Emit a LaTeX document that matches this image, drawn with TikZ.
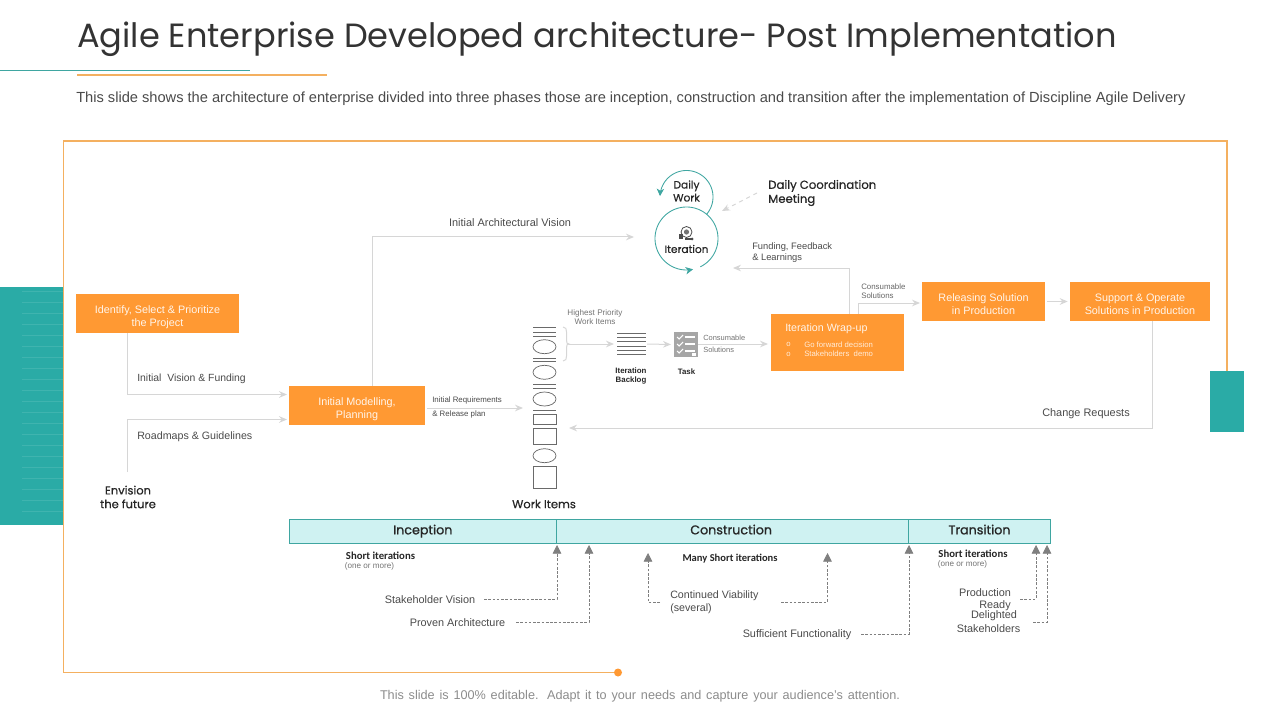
\documentclass[tikz,border=0pt]{standalone}
\usepackage{fontspec}
\setmainfont{Liberation Sans}
\newfontfamily\goth{Poppins}
\newfontfamily\gothb[FakeBold=0.6]{Poppins}
\newfontfamily\gothB[FakeBold=1.1]{Poppins}
\newfontfamily\carl{Carlito}
\usetikzlibrary{arrows.meta,calc}
\definecolor{orbox}{HTML}{FF9933}
\definecolor{frameor}{HTML}{F4B060}
\definecolor{tealc}{HTML}{2AABA6}
\definecolor{tealbar}{HTML}{CFF2F2}
\definecolor{tealedge}{HTML}{3FA6A1}
\definecolor{conn}{HTML}{D6D6D6}
\definecolor{dashc}{HTML}{7F7F7F}
\definecolor{txt}{HTML}{4A4A4A}
\definecolor{itemc}{HTML}{6A6A6A}
\newcommand{\fsz}[2]{\fontsize{#1}{#2}\selectfont}
\newcommand{\obt}[1]{\rule{0pt}{16.9pt}\begin{tabular}{@{}c@{}}#1\end{tabular}}
\tikzset{
  orangebox/.style={fill=orbox,draw=none,inner sep=0pt,align=center,text=white!92!orange,font=\fsz{8.1}{9.7}},
  phasebox/.style={fill=tealbar,draw=tealedge,line width=0.7pt,inner sep=0pt,text=black!85,font=\gothB\fsz{9.5}{11},minimum height=18pt,text height=7pt,text depth=2pt},
  flow/.style={draw=conn,line width=0.75pt,-{Stealth[length=6pt,width=5pt,inset=2pt]}},
  dashconn/.style={draw=dashc,line width=0.55pt,dash pattern=on 2pt off 1.2pt,-{Triangle[length=6.5pt,width=6.5pt,fill=dashc]}},
  lab/.style={inner sep=0pt,text=txt,align=left,anchor=west},
  labc/.style={inner sep=0pt,text=txt,align=center},
  gothlab/.style={inner sep=0pt,text=black!85,align=center},
  wraptext/.style={anchor=west,inner sep=0pt,text=white!85!orange,font=\fsz{5.8}{7}},
  itemline/.style={draw=itemc,line width=0.5pt},
  itemshape/.style={draw=itemc,line width=0.55pt},
  spin/.style={draw=tealedge,line width=0.65pt,-{Stealth[length=5.5pt,width=5.5pt,inset=1.5pt]},samples=90,smooth,variable=\t},
}
\begin{document}
\begin{tikzpicture}[x=0.75pt,y=-0.75pt]
\useasboundingbox (0,0) rectangle (1280,720);
% side panels
\fill[tealc] (0,287) rectangle (63,525);
\foreach \yy in {291,302,...,521}{\draw[white!10!tealc,line width=0.35pt] (22,\yy) -- (63,\yy);}
\fill[tealc] (1210,371) rectangle (1244,432);
% frame
\coordinate (frameEnd) at (618,672.5);
\draw[frameor,line width=0.9pt] (1227,371) -- (1227,141) -- (63.4,141) -- (63.4,672.5) -- (frameEnd);
\fill[orbox] (frameEnd) circle[radius=4];
% title
\node[anchor=base west,inner sep=0pt,text=black!80,font=\goth\fsz{25.2}{30}] (title) at (77,48) {Agile Enterprise Developed architecture- Post Implementation};
\draw[tealedge,line width=0.75pt] (0,70.5) -- (250,70.5);
\draw[frameor,line width=0.9pt] (77,75) -- (327,75);
\node[anchor=west,inner sep=0pt,text=txt,font=\fsz{11}{13}] (sub) at (76,99) {\makebox[832pt][s]{This slide shows the architecture of enterprise divided into three phases those are inception, construction and transition after the implementation of Discipline Agile Delivery}};
\node[inner sep=0pt,text=black!45,font=\fsz{9.5}{11}] (foot) at (640,696.5) {\makebox[390pt][s]{This slide is 100\% editable. Adapt it to your needs and capture your audience's attention.}};

% boxes
\node[orangebox,minimum width=122.25pt,minimum height=29.25pt] (identify) at (157.5,313.5) {\obt{Identify, Select \& Prioritize\\the Project}};
\node[orangebox,minimum width=102pt,minimum height=29.25pt] (modelling) at (357,405.5) {\obt{Initial Modelling,\\Planning}};
\node[orangebox,minimum width=99.75pt,minimum height=42.75pt] (wrap) at (837.5,342.5) {};
\node[orangebox,minimum width=92.25pt,minimum height=29.25pt] (release) at (983.5,301.5) {\obt{Releasing Solution\\in Production}};
\node[orangebox,minimum width=105pt,minimum height=29.25pt] (support) at (1140,301.5) {\obt{Support \& Operate\\Solutions in Production}};
\node[wraptext,text=white!92!orange,font=\fsz{8}{9.7}] (wraptitle) at (785,329) {Iteration Wrap-up};
\node[wraptext] (b1) at (786,344.5) {o};
\node[wraptext] (b2) at (786,354) {o};
\node[wraptext] (w1) at (804,344.5) {Go forward decision};
\node[wraptext] (w2) at (804,354) {Stakeholders\ \ demo};

% text labels
\node[gothlab,font=\gothb\fsz{8.6}{10.3}] (envision) at (128,497) {Envision\\the future};
\node[lab,font=\fsz{7.8}{9}] (lv) at (137,379) {Initial\ \ Vision \& Funding};
\node[lab,font=\fsz{8}{9}] (lr) at (137,436.5) {Roadmaps \& Guidelines};
\node[labc,font=\fsz{8.2}{9}] (larch) at (510,222.5) {Initial Architectural Vision};
\node[lab,font=\fsz{5.9}{7}] (lreq1) at (432,400.5) {Initial Requirements};
\node[lab,font=\fsz{5.9}{7}] (lreq2) at (432,414.5) {\& Release plan};
\node[labc,text=black!55,font=\fsz{6.1}{6.9}] (lhigh) at (595,317) {Highest Priority\\Work Items};
\node[labc,text=black!85,font=\bfseries\fsz{5.9}{6.9}] (lback) at (631,376) {Iteration\\Backlog};
\node[labc,text=black!85,font=\bfseries\fsz{5.9}{7}] (ltask) at (686.5,371.5) {Task};
\node[lab,text=black!55,font=\fsz{5.6}{7}] (lc1) at (703,338) {Consumable};
\node[lab,text=black!55,font=\fsz{5.6}{7}] (lc2) at (703,349.5) {Solutions};
\node[lab,font=\fsz{7}{8.3}] (lfund) at (752,253) {Funding, Feedback\\\& Learnings};
\node[lab,text=black!60,font=\fsz{5.9}{6.9}] (lcons) at (861,291) {Consumable\\Solutions};
\node[labc,font=\fsz{8.2}{9}] (lchange) at (1086,413.5) {Change Requests};
\node[gothlab,font=\gothb\fsz{8.6}{9.8}] (lwork) at (544,504) {Work Items};
\node[gothlab,anchor=west,align=left,font=\gothb\fsz{8.75}{10.5}] (lcoord) at (768,193) {Daily Coordination\\Meeting};

% cycle circles
\node[gothlab,font=\gothb\fsz{8}{9.7}] (daily) at (686.5,191) {Daily\\Work};
\node[gothlab,font=\gothb\fsz{7.9}{9}] (iter) at (686.5,249) {Iteration};
\draw[spin,domain=41:-178] plot ({686.5+26.5*cos(\t)},{197+26.5*sin(\t)});
\draw[spin,domain=64:-282] plot ({686.5+31.5*cos(\t)},{238.5+31.5*sin(\t)});
% iteration icon
\draw[draw=black!70,line width=0.6pt] (686.5,232) circle[radius=5.5];
\fill[black!55] (686.5,232) circle[radius=2.6];
\fill[black!70] (679,234) rectangle (682.5,239.5);
\draw[black!70,line width=0.8pt] (685,239) -- (692,239);
\fill[black!70] (692,239) circle[radius=1.5];

% work items
\foreach \yy in {327.3,332,336.7,384,388.3,410}{\draw[itemline] (533,\yy) -- (556,\yy);}
\draw[itemline,line width=1pt] (533,358.3) -- (556,358.3);
\draw[itemline] (533,361.7) -- (556,361.7);
\foreach \yy in {346.7,372.3,399,455.7}{\draw[itemshape] (544.5,\yy) ellipse[x radius=11.5,y radius=7];}
\draw[itemshape] (533,414.7) rectangle (556,424.7);
\draw[itemshape] (533,428.3) rectangle (556,444.3);
\draw[itemshape] (533,466.3) rectangle (556,488.3);
\coordinate (itemsIn) at (523,408);
\coordinate (itemsBack) at (569,428);
% brace
\draw[conn,line width=0.75pt] (563,327) .. controls (566,327) and (566.5,329) .. (566.5,332) -- (566.5,340) .. controls (566.5,343) and (567,344) .. (569,344) .. controls (567,344) and (566.5,345) .. (566.5,348) -- (566.5,356) .. controls (566.5,359) and (566,361) .. (563,361);
\coordinate (braceTip) at (569,344);
% backlog
\foreach \yy in {333.7,337.7,341.7,346,350,354.3}{\draw[itemline] (617,\yy) -- (646,\yy);}
\node[inner sep=0pt,minimum width=2pt,minimum height=15.5pt] (backlog) at (631.5,344) {};
% task icon
\node[fill=black!35,inner sep=0pt,minimum width=18pt,minimum height=18.75pt] (task) at (686,344.5) {};
\foreach \yy in {337,344,351}{
  \draw[white,line width=0.8pt] (677,\yy) -- (679,\yy+2) -- (683,\yy-2);
  \draw[white,line width=0.8pt] (685,\yy) -- (695,\yy);
}
\fill[white] (692,353) rectangle (696,356);

% connectors
\coordinate (modIn1) at (287,394.5);
\coordinate (modIn2) at (287,419.5);
\coordinate (envTop) at (127.5,472);
\draw[flow] (identify.south -| envTop) |- (modIn1);
\draw[flow] (envTop) |- (modIn2);
\coordinate (visionEnd) at (634,237);
\draw[flow] (modelling.north -| 372,0) |- (visionEnd);
\draw[flow] ($(modelling.east |- itemsIn)+(2,0)$) -- (itemsIn);
\draw[flow] (braceTip) -- (backlog.west -| 614,0);
\draw[flow] (647,344) -- (task.west -| 671,0);
\draw[flow] (task.east |- 0,344) -- (768,344);
\coordinate (fundEnd) at (733,268);
\draw[flow] (wrap.north -| 849,0) |- (fundEnd);
\draw[flow] (wrap.north -| 858,0) |- (920,303);
\draw[flow] ($(release.east)+(2,0)$) -- ($(support.west)+(-2,0)$);
\draw[flow] (support.south -| 1152,0) |- (itemsBack);
\coordinate (coordStart) at (757,193);
\coordinate (coordEnd) at (722,211);
\draw[flow,dashed] (coordStart) -- (coordEnd);

% phases
\node[phasebox,minimum width=200.25pt] (inception) at (422.75,531) {Inception};
\node[phasebox,minimum width=264pt] (construction) at (732.5,531) {\hspace{-2pt}Construction};
\node[phasebox,minimum width=106.5pt] (transition) at (979.5,531) {Transition};

% phase notes
\node[labc,text=black!85,font=\carl\bfseries\fsz{8.05}{9}] (s1) at (380.5,555.5) {Short iterations};
\node[labc,text=black!55,font=\fsz{6.1}{7}] (o1) at (369.5,566.5) {(one or more)};
\node[labc,text=black!85,font=\carl\bfseries\fsz{7.9}{9}] (s2) at (730,559) {Many Short iterations};
\node[labc,text=black!85,font=\carl\bfseries\fsz{8.05}{9}] (s3) at (973,553.5) {Short iterations};
\node[labc,text=black!55,font=\fsz{6.1}{7}] (o3) at (962.5,564.5) {(one or more)};

\node[labc,font=\fsz{8.15}{9}] (sv) at (430,599.5) {Stakeholder Vision};
\node[labc,font=\fsz{8.15}{9}] (pa) at (457.5,622.5) {Proven Architecture};
\node[lab,font=\fsz{8}{9.8}] (cv) at (670,602) {Continued Viability\\(several)};
\node[labc,font=\fsz{8.15}{9}] (sf) at (797,634.5) {Sufficient Functionality};
\node[labc,font=\fsz{8.15}{9}] (pr1) at (985,592.5) {Production};
\node[labc,font=\fsz{8.15}{9}] (pr2) at (995,605.5) {Ready};
\node[labc,font=\fsz{8.15}{9}] (ds1) at (994,615.5) {Delighted};
\node[labc,font=\fsz{8.15}{9}] (ds2) at (988.5,628.5) {Stakeholders};

% dashed arrows to the phase bar
\draw[dashconn] (484,599) -| (557,545);
\draw[dashconn] (516,622.5) -| (589,545);
\draw[dashconn] (660,602) -| (648,553);
\draw[dashconn] (781,602) -| (827.5,553);
\draw[dashconn] (861,634) -| (909,545);
\draw[dashconn] (1020,599) -| (1036,545);
\draw[dashconn] (1033,622) -| (1047,545);
\end{tikzpicture}
\end{document}
